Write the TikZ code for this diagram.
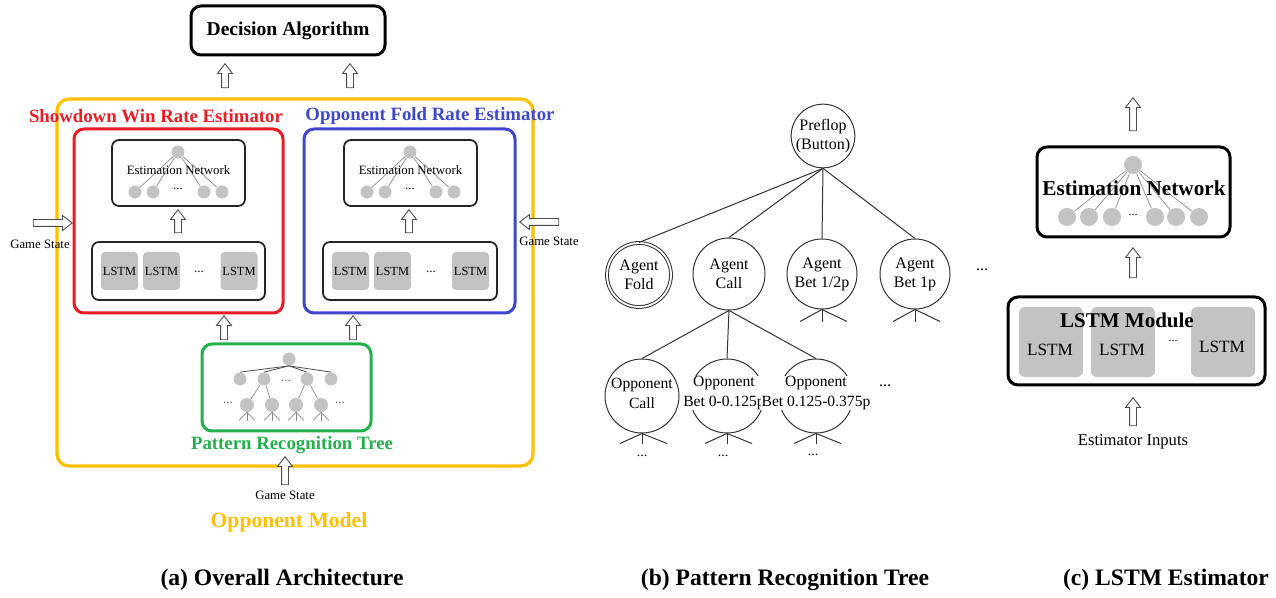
\documentclass[tikz,border=0pt]{standalone}
\usepackage{fontspec}
\setmainfont{Liberation Serif}
\usetikzlibrary{shapes.arrows}

\definecolor{modelColor}{RGB}{255,192,0}
\definecolor{winColor}{RGB}{237,28,36}
\definecolor{foldColor}{RGB}{63,72,204}
\definecolor{treeColor}{RGB}{34,177,76}
\definecolor{cellColor}{RGB}{195,195,195}
\definecolor{wireColor}{RGB}{140,140,140}

\begin{document}
\begin{tikzpicture}[x=0.5pt,y=-0.5pt,
    box/.style={draw=black!85, rounded corners=3.5pt, line width=0.9pt, inner sep=0pt},
    bigbox/.style={draw=black, rounded corners=5pt, line width=1.5pt, inner sep=0pt},
    cell/.style={fill=cellColor, rounded corners=2pt, inner sep=0pt},
    dot/.style={circle, fill=cellColor, inner sep=0pt},
    wire/.style={draw=wireColor, line width=0.35pt},
    hollow/.style={single arrow, draw=black!70, fill=white, line width=0.45pt,
      inner xsep=0pt, inner ysep=1.5pt, minimum width=0pt,
      single arrow head extend=2pt, single arrow head indent=0pt,
      single arrow tip angle=75},
    state/.style={circle, draw=black!80, line width=0.5pt, inner sep=0pt,
      font=\fontsize{8}{9.5}\selectfont, align=center},
    tag/.style={font=\fontsize{7.8}{10}\selectfont, align=center, fill=white, inner sep=0.3pt},
    small/.style={font=\fontsize{6.4}{7}\selectfont},
    caption/.style={font=\fontsize{11.8}{13}\selectfont\bfseries},
  ]
  \useasboundingbox (0,0) rectangle (1276,598);

  % (a) Overall Architecture
  \node[bigbox, minimum width=97pt, minimum height=24.5pt, font=\fontsize{9.8}{11}\selectfont\bfseries] (decision) at (288,30.5) {Decision Algorithm};
  \node[hollow, rotate=90, minimum height=12pt] (upWin) at (225,78) {};
  \node[hollow, rotate=90, minimum height=12pt] (upFold) at (350,78) {};

  \node[draw=modelColor, line width=1.6pt, rounded corners=6pt, minimum width=238pt, minimum height=183.5pt] (model) at (295,282.5) {};
  \node[text=winColor, font=\fontsize{9.4}{11}\selectfont\bfseries] (winTitle) at (156,116) {Showdown Win Rate Estimator};
  \node[text=foldColor, font=\fontsize{9.4}{11}\selectfont\bfseries] (foldTitle) at (430,116) {Opponent Fold Rate Estimator};
  \node[draw=winColor, line width=1.5pt, rounded corners=5pt, minimum width=104.5pt, minimum height=92pt] (win) at (178.5,221) {};
  \node[draw=foldColor, line width=1.5pt, rounded corners=5pt, minimum width=105.5pt, minimum height=92pt] (fold) at (409.5,221) {};

  % Estimation networks
  \node[box, minimum width=66.5pt, minimum height=33pt] (winNet) at (178.5,173) {};
  \node[dot, minimum size=6.5pt] (winTop) at (178,152) {};
  \node[dot, minimum size=6.5pt] (winB1) at (135,192) {};
  \node[dot, minimum size=6.5pt] (winB2) at (153,192) {};
  \node[dot, minimum size=6.5pt] (winB3) at (204,192) {};
  \node[dot, minimum size=6.5pt] (winB4) at (222,192) {};
  \draw[wire] (winTop) -- (winB1);
  \draw[wire] (winTop) -- (winB2);
  \draw[wire] (winTop) -- (winB3);
  \draw[wire] (winTop) -- (winB4);
  \node[small] (winNetText) at (178.5,170) {Estimation Network};
  \node[small] (winNetDots) at (178,189) {...};

  \node[box, minimum width=66.5pt, minimum height=33pt] (foldNet) at (410.5,173) {};
  \node[dot, minimum size=6.5pt] (foldTop) at (410,152) {};
  \node[dot, minimum size=6.5pt] (foldB1) at (367,192) {};
  \node[dot, minimum size=6.5pt] (foldB2) at (385,192) {};
  \node[dot, minimum size=6.5pt] (foldB3) at (436,192) {};
  \node[dot, minimum size=6.5pt] (foldB4) at (454,192) {};
  \draw[wire] (foldTop) -- (foldB1);
  \draw[wire] (foldTop) -- (foldB2);
  \draw[wire] (foldTop) -- (foldB3);
  \draw[wire] (foldTop) -- (foldB4);
  \node[small] (foldNetText) at (410.5,170) {Estimation Network};
  \node[small] (foldNetDots) at (410,189) {...};

  \node[hollow, rotate=90, minimum height=11.5pt] (winUp) at (178,223.5) {};
  \node[hollow, rotate=90, minimum height=11.5pt] (foldUp) at (409,223.5) {};

  % LSTM rows
  \node[box, minimum width=86.5pt, minimum height=29pt] (winLstm) at (178.5,271) {};
  \node[cell, minimum width=18.5pt, minimum height=19pt, font=\fontsize{6.2}{7}\selectfont] (winC1) at (119.5,271) {LSTM};
  \node[cell, minimum width=18.5pt, minimum height=19pt, font=\fontsize{6.2}{7}\selectfont] (winC2) at (161.5,271) {LSTM};
  \node[cell, minimum width=18.5pt, minimum height=19pt, font=\fontsize{6.2}{7}\selectfont] (winC3) at (239,271) {LSTM};
  \node[small] (winDots) at (199,272) {...};

  \node[box, minimum width=87pt, minimum height=29pt] (foldLstm) at (410,271) {};
  \node[cell, minimum width=18.5pt, minimum height=19pt, font=\fontsize{6.2}{7}\selectfont] (foldC1) at (350.5,271) {LSTM};
  \node[cell, minimum width=18.5pt, minimum height=19pt, font=\fontsize{6.2}{7}\selectfont] (foldC2) at (392.5,271) {LSTM};
  \node[cell, minimum width=18.5pt, minimum height=19pt, font=\fontsize{6.2}{7}\selectfont] (foldC3) at (470.5,271) {LSTM};
  \node[small] (foldDots) at (431,272) {...};

  \node[hollow, rotate=90, minimum height=12pt] (treeUpWin) at (224,330) {};
  \node[hollow, rotate=90, minimum height=12pt] (treeUpFold) at (353,330) {};

  % Pattern recognition tree
  \node[draw=treeColor, line width=1.5pt, rounded corners=5pt, minimum width=84.5pt, minimum height=43.5pt] (tree) at (286.5,387.5) {};
  \node[dot, minimum size=6.5pt] (tTop) at (289,359) {};
  \node[dot, minimum size=6.5pt] (tA1) at (240,379) {};
  \node[dot, minimum size=6.5pt] (tA2) at (264,379) {};
  \node[dot, minimum size=6.5pt] (tA3) at (307,379) {};
  \node[dot, minimum size=6.5pt] (tA4) at (331,379) {};
  \node[dot, minimum size=7pt] (tB1) at (247,405) {};
  \node[dot, minimum size=7pt] (tB2) at (272,405) {};
  \node[dot, minimum size=7pt] (tB3) at (296,405) {};
  \node[dot, minimum size=7pt] (tB4) at (321,405) {};
  \draw[draw=black!70, line width=0.4pt] (tTop.south) -- (tA1.north);
  \draw[draw=black!70, line width=0.4pt] (tTop.south) -- (tA2.north);
  \draw[draw=black!70, line width=0.4pt] (tTop.south) -- (tA3.north);
  \draw[draw=black!70, line width=0.4pt] (tTop.south) -- (tA4.north);
  \draw[wire] (tA2) -- (tB1);
  \draw[wire] (tA2) -- (tB2);
  \draw[wire] (tA3) -- (tB3);
  \draw[wire] (tA3) -- (tB4);
  \draw[wire] (tB1.south) -- ++(-8,8);
  \draw[wire] (tB1.south) -- ++(0,9);
  \draw[wire] (tB1.south) -- ++(8,8);
  \draw[wire] (tB2.south) -- ++(-8,8);
  \draw[wire] (tB2.south) -- ++(0,9);
  \draw[wire] (tB2.south) -- ++(8,8);
  \draw[wire] (tB3.south) -- ++(-8,8);
  \draw[wire] (tB3.south) -- ++(0,9);
  \draw[wire] (tB3.south) -- ++(8,8);
  \draw[wire] (tB4.south) -- ++(-8,8);
  \draw[wire] (tB4.south) -- ++(0,9);
  \draw[wire] (tB4.south) -- ++(8,8);
  \node[small, text=black!60] (tDotsA) at (286,381) {...};
  \node[small, text=black!60] (tDotsL) at (228,403) {...};
  \node[small, text=black!60] (tDotsR) at (340,403) {...};
  \node[text=treeColor, font=\fontsize{9.4}{11}\selectfont\bfseries] (treeTitle) at (292,445) {Pattern Recognition Tree};

  % Game state inputs
  \node[hollow, rotate=90, minimum height=14pt] (stateUp) at (285,473) {};
  \node[small] (stateBottom) at (285,495) {Game State};
  \node[hollow, minimum height=19.5pt] (stateRight) at (50.5,223) {};
  \node[small] (stateLeft) at (40,244) {Game State};
  \node[hollow, rotate=180, minimum height=19.5pt] (stateLeftward) at (541.5,222) {};
  \node[small] (stateRightText) at (549,241) {Game State};

  \node[text=modelColor, font=\fontsize{10.8}{12}\selectfont\bfseries] (modelTitle) at (289,522) {Opponent Model};
  \node[caption] (capA) at (282,580) {(a) Overall Architecture};

  % (b) Pattern Recognition Tree
  \node[state, minimum size=31pt] (preflop) at (823,136) {Preflop\\(Button)};
  \node[state, double, double distance=0.9pt, minimum size=32pt] (aFold) at (639,275) {Agent\\Fold};
  \node[state, minimum size=36pt] (aCall) at (729,274) {Agent\\Call};
  \node[state, minimum size=35pt] (aHalf) at (822,274) {Agent\\Bet 1/2p};
  \node[state, minimum size=35pt] (aPot) at (915,274) {Agent\\Bet 1p};
  \node[font=\fontsize{8}{9}\selectfont] (aDots) at (982,270) {...};
  \draw[line width=0.5pt, black!80] (preflop.south) -- (aFold.north);
  \draw[line width=0.5pt, black!80] (preflop.south) -- (aCall.north);
  \draw[line width=0.5pt, black!80] (preflop.south) -- (aHalf.north);
  \draw[line width=0.5pt, black!80] (preflop.south) -- (aPot.north);
  \draw[line width=0.5pt, black!80] (aHalf.south) -- ++(-22,12);
  \draw[line width=0.5pt, black!80] (aHalf.south) -- ++(0,13);
  \draw[line width=0.5pt, black!80] (aHalf.south) -- ++(25,12);
  \draw[line width=0.5pt, black!80] (aPot.south) -- ++(-22,12);
  \draw[line width=0.5pt, black!80] (aPot.south) -- ++(0,13);
  \draw[line width=0.5pt, black!80] (aPot.south) -- ++(25,12);

  \node[state, minimum size=37pt] (oCall) at (642,396) {};
  \node[state, minimum size=37pt] (oLow) at (727,396) {};
  \node[state, minimum size=37pt] (oMid) at (816,396) {};
  \node[tag] (oCallTag) at (642,393) {Opponent\\Call};
  \node[tag] (oLowTag) at (724,393) {Opponent\\Bet 0-0.125p};
  \node[tag] (oMidTag) at (816,393) {Opponent\\Bet 0.125-0.375p};
  \node[font=\fontsize{8}{9}\selectfont] (oDots) at (885,386) {...};
  \draw[line width=0.5pt, black!80] (aCall.south) -- (oCall.north);
  \draw[line width=0.5pt, black!80] (aCall.south) -- (oLow.north);
  \draw[line width=0.5pt, black!80] (aCall.south) -- (oMid.north);
  \draw[line width=0.5pt, black!80] (oCall.south) -- ++(-22,10);
  \draw[line width=0.5pt, black!80] (oCall.south) -- ++(0,11);
  \draw[line width=0.5pt, black!80] (oCall.south) -- ++(25,10);
  \draw[line width=0.5pt, black!80] (oLow.south) -- ++(-22,10);
  \draw[line width=0.5pt, black!80] (oLow.south) -- ++(0,11);
  \draw[line width=0.5pt, black!80] (oLow.south) -- ++(25,10);
  \draw[line width=0.5pt, black!80] (oMid.south) -- ++(-22,10);
  \draw[line width=0.5pt, black!80] (oMid.south) -- ++(0,11);
  \draw[line width=0.5pt, black!80] (oMid.south) -- ++(25,10);
  \node[font=\fontsize{7}{8}\selectfont] (oCallDots) at (642,456) {...};
  \node[font=\fontsize{7}{8}\selectfont] (oLowDots) at (723,456) {...};
  \node[font=\fontsize{7}{8}\selectfont] (oMidDots) at (813,455) {...};

  \node[caption] (capB) at (785,580) {(b) Pattern Recognition Tree};

  % (c) LSTM Estimator
  \node[hollow, rotate=90, minimum height=16.5pt] (outUp) at (1133,116.5) {};
  \node[bigbox, minimum width=96.5pt, minimum height=45pt] (estNet) at (1133.5,192) {};
  \node[dot, minimum size=9pt] (eTop) at (1133,165) {};
  \node[dot, minimum size=9pt] (eB1) at (1067,217) {};
  \node[dot, minimum size=9pt] (eB2) at (1089,217) {};
  \node[dot, minimum size=9pt] (eB3) at (1112,217) {};
  \node[dot, minimum size=9pt] (eB4) at (1155,217) {};
  \node[dot, minimum size=9pt] (eB5) at (1176,217) {};
  \node[dot, minimum size=9pt] (eB6) at (1199,217) {};
  \draw[wire] (eTop) -- (eB1);
  \draw[wire] (eTop) -- (eB2);
  \draw[wire] (eTop) -- (eB3);
  \draw[wire] (eTop) -- (eB4);
  \draw[wire] (eTop) -- (eB5);
  \draw[wire] (eTop) -- (eB6);
  \node[font=\fontsize{10.6}{12}\selectfont\bfseries] (estNetText) at (1134,188) {Estimation Network};
  \node[font=\fontsize{6}{7}\selectfont] (eDots) at (1133,215) {...};

  \node[hollow, rotate=90, minimum height=15pt] (midUp) at (1133,265) {};

  \node[bigbox, minimum width=128.5pt, minimum height=44pt] (lstmMod) at (1136.5,341) {};
  \node[cell, minimum width=32pt, minimum height=35pt, rounded corners=3pt] (mC1) at (1051,342) {};
  \node[cell, minimum width=32pt, minimum height=35pt, rounded corners=3pt] (mC2) at (1123,342) {};
  \node[cell, minimum width=32pt, minimum height=35pt, rounded corners=3pt] (mC3) at (1223,342) {};
  \node[font=\fontsize{10.5}{12}\selectfont\bfseries] (lstmModText) at (1127,320) {LSTM Module};
  \node[font=\fontsize{8.6}{10}\selectfont] (mL1) at (1050,350) {LSTM};
  \node[font=\fontsize{8.6}{10}\selectfont] (mL2) at (1122,350) {LSTM};
  \node[font=\fontsize{8.6}{10}\selectfont] (mL3) at (1222,347) {LSTM};
  \node[font=\fontsize{6}{7}\selectfont] (mDots) at (1173,341) {...};

  \node[hollow, rotate=90, minimum height=14pt] (inUp) at (1133,414) {};
  \node[font=\fontsize{8.3}{10}\selectfont] (inText) at (1133,442) {Estimator Inputs};

  \node[caption] (capC) at (1166,580) {(c) LSTM Estimator};
\end{tikzpicture}
\end{document}
